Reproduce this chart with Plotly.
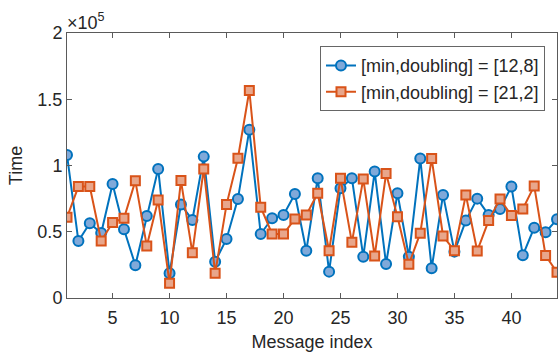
import plotly.graph_objects as go

message_index = list(range(1, 45))

time_12_8 = [108000, 43000, 56400, 49000, 86100, 51900, 24700, 61900, 97400, 18600,
             70500, 58900, 106700, 27400, 44600, 74800, 126900, 48300, 60200, 62700,
             78500, 35700, 90400, 19900, 82800, 90400, 31200, 95400, 25700, 79100,
             31200, 105200, 22400, 77800, 35000, 58400, 75000, 62700, 67200, 84100,
             32200, 53100, 49600, 59400]

time_21_2 = [60900, 84100, 84100, 43000, 56900, 60200, 88400, 39300, 74000, 11100,
             88600, 34200, 97400, 18600, 70500, 105500, 156600, 68500, 48300, 48300,
             59700, 62700, 79100, 35700, 90400, 42000, 89900, 31700, 93900, 61400,
             25400, 48900, 105200, 46800, 35700, 77800, 35500, 58400, 74800, 62200,
             67200, 84600, 32000, 19400]

y_tick_vals = [0, 50000, 100000, 150000, 200000]
y_tick_text = ["0", "0.5", "1", "1.5", "2"]
x_tick_vals = [5, 10, 15, 20, 25, 30, 35, 40]

series_names = ["[min,doubling] = [12,8]", "[min,doubling] = [21,2]"]

FONT = "Liberation Sans, Arial, Helvetica, sans-serif"
AX = "#5a5a5a"

fig = go.Figure()
fig.add_trace(go.Scatter(
    x=message_index, y=time_12_8, mode="lines+markers", name=series_names[0],
    line=dict(color="#0072BD", width=2),
    marker=dict(symbol="circle", size=10, color="#80A9D9",
                line=dict(color="#0072BD", width=2)),
))
fig.add_trace(go.Scatter(
    x=message_index, y=time_21_2, mode="lines+markers", name=series_names[1],
    line=dict(color="#D95319", width=2),
    marker=dict(symbol="square", size=9, color="#E8A68B",
                line=dict(color="#D95319", width=2)),
))

fig.update_layout(
    width=559, height=354,
    margin=dict(l=67, r=2, t=33, b=56),
    paper_bgcolor="white", plot_bgcolor="white",
    font=dict(family=FONT, size=18, color="#262626"),
    showlegend=True,
    legend=dict(
        x=0.9755, y=0.95, xanchor="right", yanchor="top",
        bgcolor="white", bordercolor="#666666", borderwidth=1,
        font=dict(family=FONT, size=18, color="#262626"),
        tracegroupgap=0, itemwidth=30,
    ),
)
fig.update_xaxes(
    range=[1, 44], tickvals=x_tick_vals, ticks="inside", ticklen=5,
    tickcolor=AX, showline=True, linecolor=AX, linewidth=1, mirror="allticks",
    showgrid=False, zeroline=False, ticklabelstandoff=3,
    tickfont=dict(family=FONT, size=18, color="#262626"),
    title=dict(text="Message index", font=dict(family=FONT, size=18, color="#262626"), standoff=8),
)
fig.update_yaxes(
    range=[0, 200000], tickvals=y_tick_vals, ticktext=y_tick_text,
    ticks="inside", ticklen=5, tickcolor=AX, showline=True, linecolor=AX,
    linewidth=1, mirror="allticks", showgrid=False, zeroline=False,
    tickfont=dict(family=FONT, size=18, color="#262626"),
    title=dict(text="Time", font=dict(family=FONT, size=18, color="#262626"), standoff=10),
)
fig.add_annotation(
    xref="paper", yref="paper", x=0, y=1, xanchor="left", yanchor="bottom",
    text="×10<sup>5</sup>", showarrow=False, xshift=-2, yshift=-2,
    font=dict(family=FONT, size=18, color="#262626"),
)

fig.write_html("out.html")
